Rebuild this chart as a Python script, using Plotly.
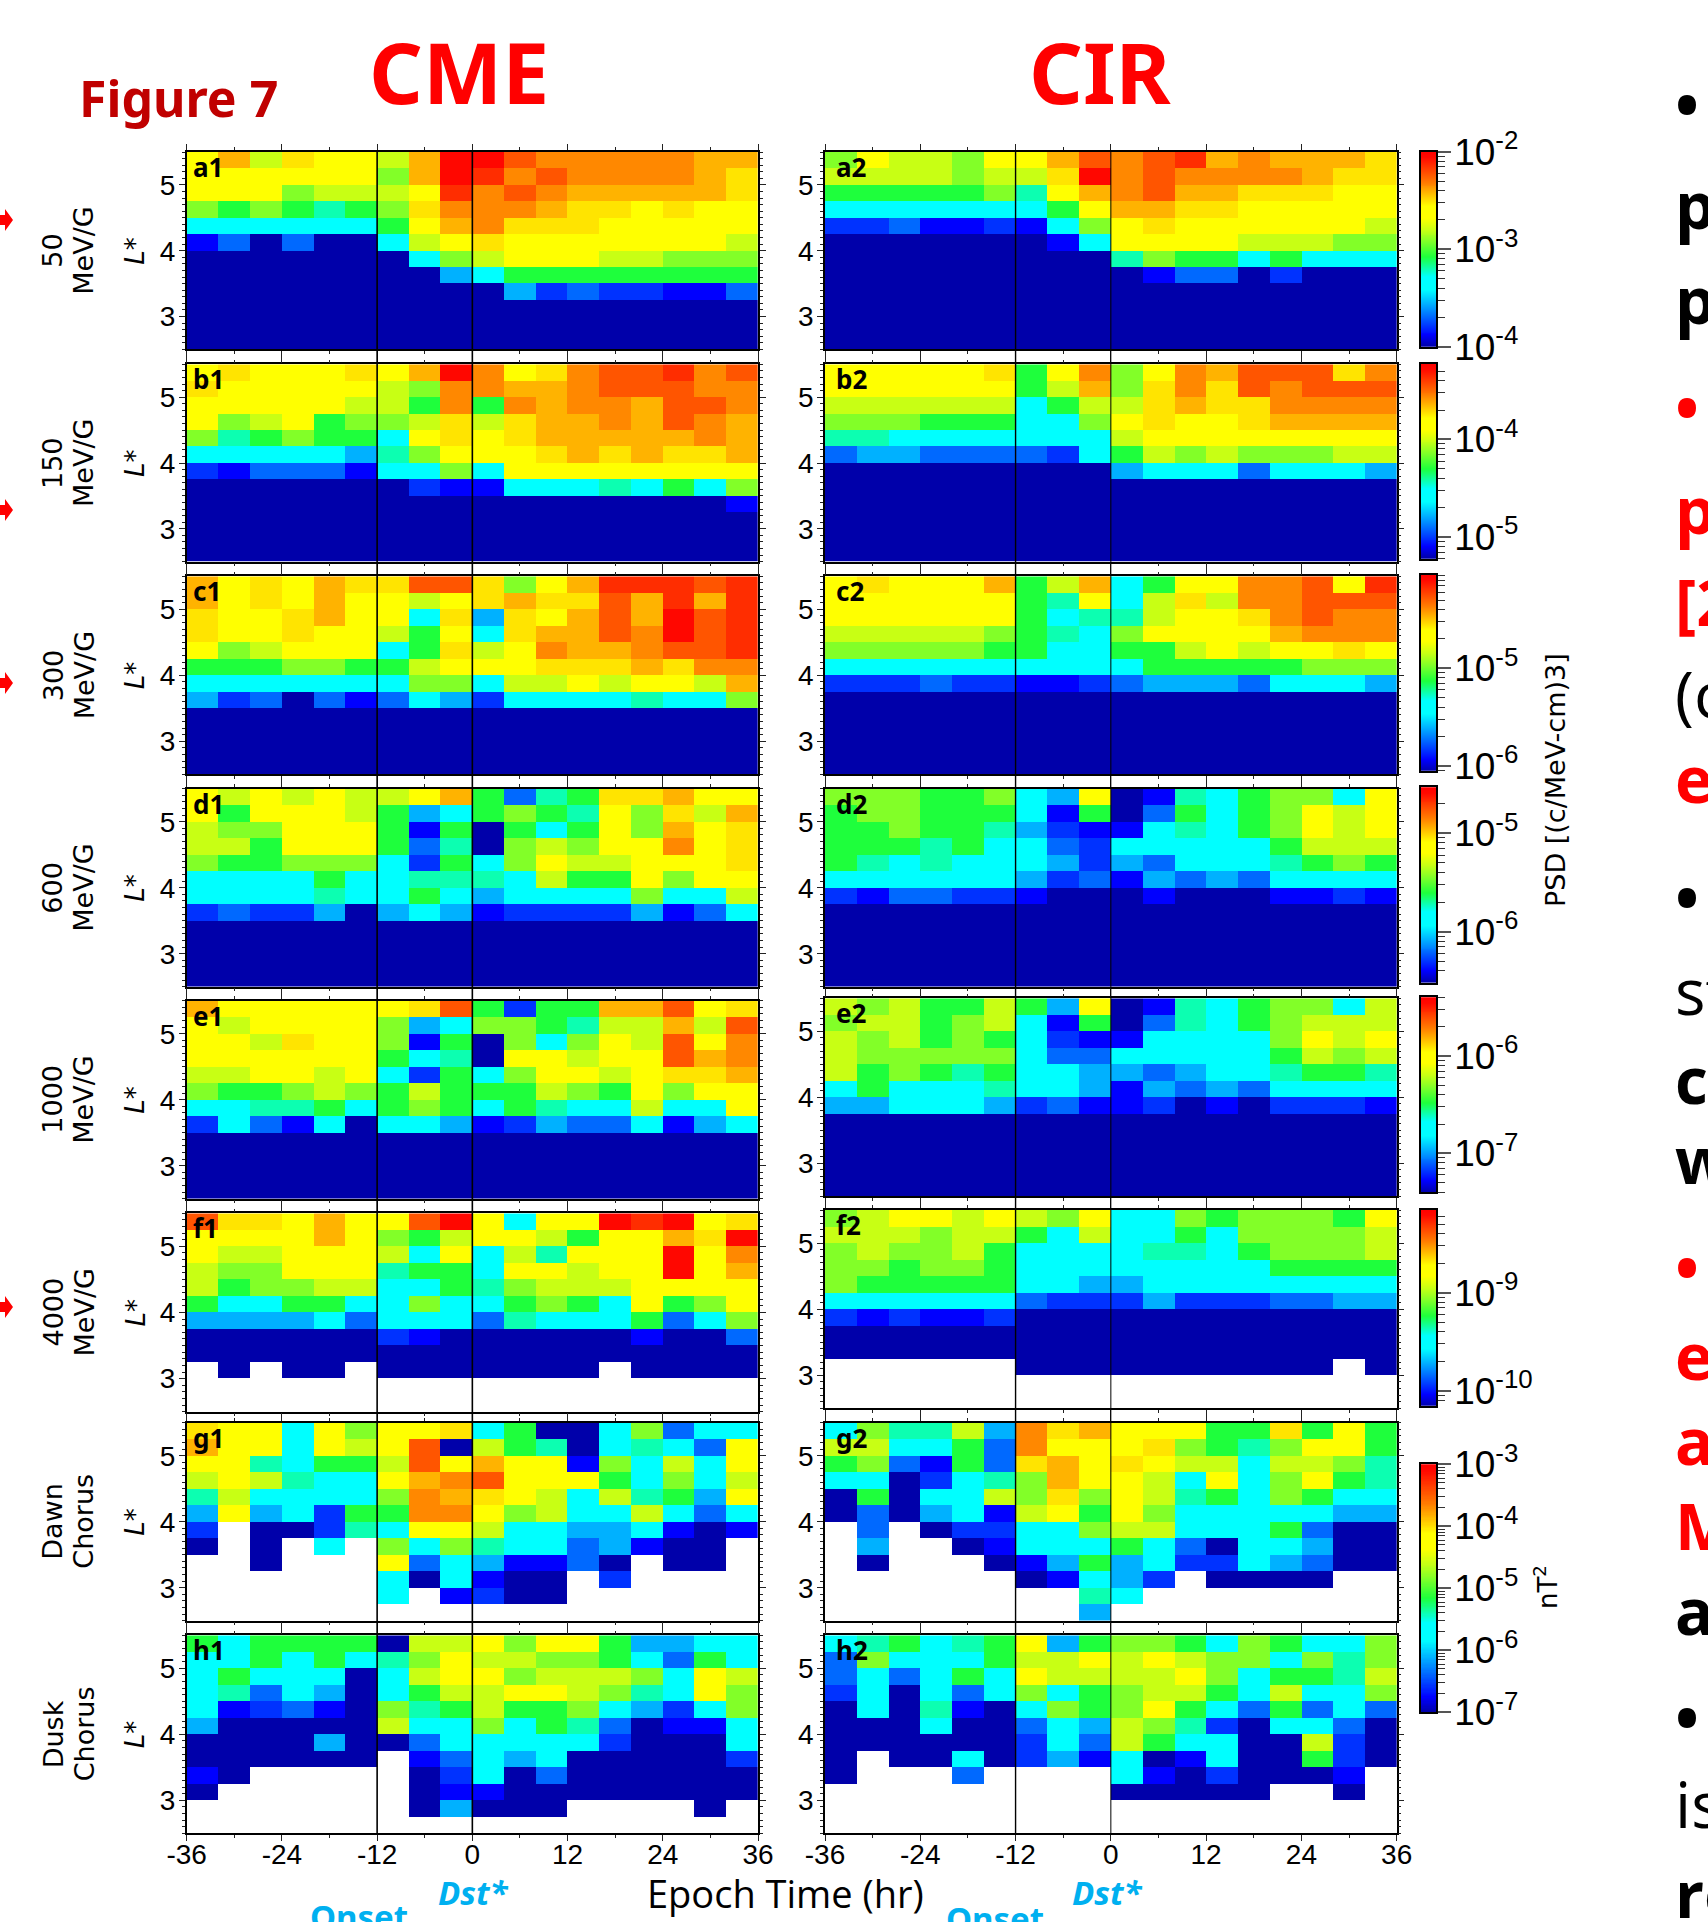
import numpy as np
import plotly.graph_objects as go

W, H = 1708, 1922
epoch_centers = list(range(-34, 35, 4))
lstar_centers_top_down = [5.375 - 0.25 * i for i in range(12)]
epoch_ticks = [-36, -24, -12, 0, 12, 24, 36]
epoch_tick_labels = ["-36", "-24", "-12", "0", "12", "24", "36"]

Z = "0" * 18
N = "." * 18
# each row: L* bin from top (5.25-5.5) to bottom (2.5-2.75); one character per 4-hr bin, colour level
a1 = ["ac9baa 9cg gedddddcc", "aaaaaa 8cg fdeddddcb", "aaa899 9af dedcccccb", "878767 8bd ddcbbabaa",
      "555555 7ac dbbbaaaaa", "130300 59a baaaaaaa9", "000000 058 9aaa99888", "000000 004 577777777",
      "000000 000 042322113", Z, Z, Z]
a2 = ["8a998a ace defcdcccb", "999989 9bg deddddcbb", "777778 6ac deccbbbaa", "555555 57a ccbbaaaaa",
      "223112 158 abaaaaaa9", "000000 015 aaaa99988", "000000 000 687757555", "000000 000 013302000",
      Z, Z, Z, Z]
b1 = ["abaaab acg dabdeefde", "baaaaa 98d dccdeeedd", "aaaaa9 97d 7dcddceed", "a89a78 89b 9bccdcedc",
      "867877 5ab abcccccdc", "555554 68a aabcbcbbc", "213331 558 5aaaaaaaa", "000000 021 155565758",
      "000000 000 000000001", Z, Z, Z]
b2 = ["aaaaab 7ad 8adceeebd", "aaaaaa 79c 8bdbedeee", "999999 579 9bcbbdddd", "888777 558 abaabcccc",
      "665555 555 9aaaaaaaa", "344333 325 798988899", "000000 000 455535554", Z, Z, Z, Z, Z]
c1 = ["cabacb bee b8acfffef", "cabaca a9a bcbbecfcf", "baabca a5b 4bacecgef", "baabaa 97a 5bccedgef",
      "a89aaa 57b 9adccdeef", "777887 79a aabbbcbdd", "555555 588 599a9aa9c", "423031 354 255556558",
      Z, Z, Z, Z]
c2 = ["abaaac 79c 57aaddeaf", "aaaaaa 76a 59b9ddeee", "aaaaaa 756 69aabdedd", "999998 765 8aaaacddd",
      "888887 755 779a9aaba", "555555 555 577777888", "222322 112 344435554", Z, Z, Z, Z, Z]
d1 = ["a9a9a9 9ac 7367bbcaa", "a7aaa9 745 7876a8b9c", "988aaa 717 0757a8cab", "997aaa 736 0898aadab",
      "877888 527 58a99aaab", "555575 566 65977a8aa", "555565 575 455558559", "232240 454 122224135",
      Z, Z, Z, Z]
d2 = ["888778 54a 01657885a", "788777 517 037578a9a", "778776 421 156578a9a", "777675 532 555557999",
      "765655 542 435556787", "555555 423 143435555", "213322 100 010001121", Z, Z, Z, Z, Z]
e1 = ["caaaaa abe 7277cceab", "a9aaaa 845 887699c9e", "aa9baa 817 0858a9ead", "aaaaaa 756 0aa9aaecd",
      "99aa9a 527 58aa9abbc", "877898 797 77987a8aa", "556675 787 57655955a", "253150 554 124335145",
      Z, Z, Z, Z]
e2 = ["989779 74a 016578859", "899789 517 036578999", "989787 521 155558a9a", "988888 533 555557989",
      "978767 554 434556776", "575556 554 143435555", "445554 231 120102221", Z, Z, Z, Z, Z]
f1 = ["ebbaca aeg a5aagfgab", "aaaaca 879 aa97aacbg", "a99aaa 95a 596aaagad", "988aaa 677 5aa9aagac",
      "978899 557 68999aaaa", "755775 585 57875a78a", "444453 555 365557358", "000000 210 000001003",
      Z, ".0.00. 000 0000.0000", N, N]
f2 = ["89aa9a 98a 55878887a", "999899 759 557588889", "898897 555 566578889", "887887 555 555557777",
      "877777 554 455555555", "555555 322 242223344", "212112 000 000000000", Z, Z,
      "...... 000 0000000.0", N, N]
g1 = ["baa5a8 aab 570058355", "caa5a9 ae0 97605653a", "aa6577 9ea caa18595a", "9a9655 acd eaaa75859",
      "695555 8dc ba959674a", "4a4527 7dd a89559535", "2.0026 5aa 955445101", "0.0.5. 858 65534100.",
      "..0... a35 41130.00.", "...... 505 100.2....", "...... 5.1 200......", N]
g2 = ["586694 dbc aaa77b7a7", "995573 daa ab8768aa7", "783173 bca ba9959986", "550256 8ca a95a58a76",
      "070559 8b8 a96758755", "030451 9a7 a85555544", ".3.022 558 995557300", ".4..01 555 753055400",
      ".0...0 147 452254300", "...... 015 42.0000..", "...... ..6 5........", "...... ..4 ........."]
h1 = ["757777 099 a8aa74455", "557575 68a 998875375", "575550 59a a89998 5a9", "563540 579 9aa9865a8",
      "512310 867 977854258", "400000 955 857630115", "000040 035 555520005", "000000 .13 545000002",
      "10.... .02 503000000", "0..... .01 100000000", "...... .04 000....0.", N]
h2 = ["567567 a47 887587558", "385557 99a 9a9885868", "353575 a99 99a857769", "250535 857 899759558",
      "050610 587 8a7537353", "000500 354 986205530", "000000 253 975500920", "0.0050 241 501500720",
      "0...3. ... 51020001.", "...... ... 00000..0.", N, N]

panels = [("a", a1, a2), ("b", b1, b2), ("c", c1, c2), ("d", d1, d2),
          ("e", e1, e2), ("f", f1, f2), ("g", g1, g2), ("h", h1, h2)]
row_labels = [("50", "MeV/G"), ("150", "MeV/G"), ("300", "MeV/G"), ("600", "MeV/G"),
              ("1000", "MeV/G"), ("4000", "MeV/G"), ("Dawn", "Chorus"), ("Dusk", "Chorus")]

# log10 colour range of each row (PSD or nT^2)
log_min = [-4.0, -5.222, -6.048, -6.518, -7.4, -10.153, -7.0, -7.0]
log_max = [-2.0, -3.223, -4.045, -4.533, -5.397, -8.156, -3.0, -3.0]
cbar_decades = [[-4, -3, -2], [-5, -4], [-6, -5], [-6, -5], [-7, -6], [-10, -9], [-7, -6, -5, -4, -3]]

level_chars = "0123456789abcdefg"
level_frac = [0, .06, .105, .155, .22, .32, .40, .46, .54, .60, .69, .745, .79, .83, .885, .93, .98]

jet = [[0, "rgb(0,0,170)"], [.06, "rgb(0,0,255)"], [.29, "rgb(0,255,255)"], [.36, "rgb(0,255,255)"],
       [.46, "rgb(30,255,60)"], [.54, "rgb(130,255,40)"], [.60, "rgb(200,255,20)"], [.66, "rgb(255,255,0)"],
       [.72, "rgb(255,255,0)"], [.84, "rgb(255,125,0)"], [.97, "rgb(255,10,0)"], [1, "rgb(255,0,0)"]]

# panel geometry in page pixels
col_x = [(186.7, 758.0), (825.0, 1396.7)]
row_y1 = [(152, 349.4), (364.3, 561.7), (576.3, 774.3), (788.7, 986.7), (1000.7, 1198.7),
          (1213.3, 1411.7), (1422.7, 1620.7), (1635.3, 1833.3)]
row_y2 = [(152, 349.4), (364.3, 561.7), (576.3, 774.3), (788.7, 986.7), (998.3, 1196),
          (1210, 1408.3), (1422.7, 1620.7), (1635.3, 1833.3)]
cbar_y = [(151.7, 346.7), (363.6, 558.7), (575, 770.7), (787.3, 982.7), (997.3, 1192.3), (1210, 1405.7), (1464.3, 1712.3)]
BAR_X0, BAR_X1 = 1421, 1436

TICK_FONT = "Liberation Sans"
WIDE_FONT = "DejaVu Sans"
BOLD_FONT = "Noto Sans"


def fx(x):
    return x / W


def fy(y):
    return 1 - y / H


def decode(rows):
    out = []
    for r in rows:
        r = r.replace(" ", "")
        assert len(r) == 18, r
        out.append([np.nan if c == "." else level_frac[level_chars.index(c)] for c in r])
    return np.array(out[::-1])


fig = go.Figure()
layout = {}
annotations = []
shapes = []


def note(text, x, y, size, color="black", font=BOLD_FONT, bold=False, italic=False, angle=0, xanchor="center"):
    if bold:
        text = f"<b>{text}</b>"
    if italic:
        text = f"<i>{text}</i>"
    annotations.append(dict(text=text, x=fx(x), y=fy(y), xref="paper", yref="paper", showarrow=False,
                            xanchor=xanchor, yanchor="middle", textangle=angle,
                            font=dict(size=size, color=color, family=font), borderpad=0, borderwidth=0))


n = 0
for i, (letter, left, right) in enumerate(panels):
    for j, rows in enumerate((left, right)):
        n += 1
        xname, yname = f"x{n}", f"y{n}"
        (x0, x1) = col_x[j]
        (y0, y1) = (row_y1 if j == 0 else row_y2)[i]
        lo, hi = log_min[i], log_max[i]
        z = lo + decode(rows) * (hi - lo)
        fig.add_trace(go.Heatmap(x=epoch_centers, y=lstar_centers_top_down[::-1], z=z, xaxis=xname, yaxis=yname,
                                 zmin=lo, zmax=hi, colorscale=jet, hoverongaps=False, showscale=False))

        suffix = "" if n == 1 else str(n)
        layout["xaxis" + suffix] = dict(
            domain=[fx(x0), fx(x1)], anchor=yname, range=[-36, 36], showgrid=False, zeroline=False,
            showline=True, linecolor="black", linewidth=1.5, mirror="allticks",
            tickmode="array", tickvals=epoch_ticks, ticktext=epoch_tick_labels,
            ticks="outside", ticklen=6, tickwidth=1.2, tickcolor="#222222",
            showticklabels=i == 7, tickfont=dict(size=28, family=TICK_FONT, color="black"),
            ticklabelstandoff=-11,
            minor=dict(ticks="outside", ticklen=3, tickwidth=1, tickcolor="#222222",
                       tickmode="array", tickvals=[-30, -18, -6, 6, 18, 30], showgrid=False))
        layout["yaxis" + suffix] = dict(
            domain=[fy(y1), fy(y0)], anchor=xname, range=[2.5, 5.5], showgrid=False, zeroline=False,
            showline=True, linecolor="black", linewidth=1.5, mirror="allticks",
            tickmode="array", tickvals=[3, 4, 5],
            ticks="outside", ticklen=6, tickwidth=1.2, tickcolor="#222222",
            tickfont=dict(size=28, family=TICK_FONT, color="black"), ticklabelstandoff=-2,
            minor=dict(ticks="outside", ticklen=3, tickwidth=1, tickcolor="#222222",
                       tick0=2.5, dtick=0.1, showgrid=False))

        # panel tag
        note(f"{letter}{j + 1}", (193 if j == 0 else 836), y0 + 15, 26, bold=True, xanchor="left")
    # row labels
    (y0, y1) = row_y1[i]
    note(row_labels[i][0], 53, (y0 + y1) / 2, 27, font=WIDE_FONT, angle=-90)
    note(row_labels[i][1], 84, (y0 + y1) / 2, 27, font=WIDE_FONT, angle=-90)
    note("L*", 135, (y0 + y1) / 2, 26, font=WIDE_FONT, italic=True, angle=-90)

# colour bars: one strip heatmap on its own log10 axis, with decade and 2..9 minor ticks
for c, (top, bot) in enumerate(cbar_y):
    n += 1
    lo, hi = log_min[c], log_max[c]
    decades = cbar_decades[c]
    levels = np.linspace(lo, hi, 200)
    minors = [k + np.log10(m) for k in range(int(np.floor(lo)), int(np.ceil(hi)) + 1) for m in range(2, 10)
              if lo <= k + np.log10(m) <= hi]
    xname, yname = f"x{n}", f"y{n}"
    fig.add_trace(go.Heatmap(x=[0], y=levels, z=levels[:, None], xaxis=xname, yaxis=yname, zmin=lo, zmax=hi,
                             colorscale=jet, showscale=False, hoverinfo="skip"))
    layout[f"xaxis{n}"] = dict(domain=[fx(BAR_X0), fx(BAR_X1)], anchor=yname, range=[-0.5, 0.5], showgrid=False,
                               zeroline=False, showticklabels=False, ticks="", showline=True, linecolor="black",
                               linewidth=1.5, mirror=True)
    layout[f"yaxis{n}"] = dict(domain=[fy(bot), fy(top)], anchor=xname, range=[lo, hi], side="right", showgrid=False,
                               zeroline=False, showline=True, linecolor="black", linewidth=1.5, mirror=True,
                               tickmode="array", tickvals=decades, ticktext=[f"10<sup>{d}</sup>" for d in decades],
                               ticks="outside", ticklen=13, tickwidth=1.5, tickcolor="#555555", ticklabelstandoff=-4,
                               tickfont=dict(size=37, family=TICK_FONT, color="black"),
                               minor=dict(ticks="outside", ticklen=7, tickwidth=1.2, tickcolor="#333333",
                                          tickmode="array", tickvals=minors, showgrid=False))

# storm onset and Dst* minimum lines, running through all panels of a column
for xr, vals, widths in (("x1", (-12, 0), (1.6, 1.6)), ("x2", (-12, 0), (1.4, 1.0))):
    for v, w in zip(vals, widths):
        shapes.append(dict(type="line", xref=xr, yref="paper", x0=v, x1=v, y0=fy(152), y1=fy(1833.3),
                           line=dict(color="black", width=w), layer="above"))

# clipped red arrows at the left page edge
for yc in (220, 510, 683, 1307):
    p = f"M{fx(-2):.5f},{fy(yc - 5):.5f}L{fx(5):.5f},{fy(yc - 5):.5f}L{fx(5):.5f},{fy(yc - 11):.5f}" \
        f"L{fx(13):.5f},{fy(yc):.5f}L{fx(5):.5f},{fy(yc + 11):.5f}L{fx(5):.5f},{fy(yc + 5):.5f}L{fx(-2):.5f},{fy(yc + 5):.5f}Z"
    shapes.append(dict(type="path", path=p, xref="paper", yref="paper", fillcolor="red",
                       line=dict(color="red", width=0), layer="above"))

# titles
note("CME", 459, 72, 84, color="#ff0000", bold=True)
note("CIR", 1100, 72, 84, color="#ff0000", bold=True)
note("Figure 7", 178, 98, 50, color="#c00000", bold=True)
note("Epoch Time (hr)", 785, 1893, 38, font="Open Sans")
BLUE = "#00b0f0"
note("Dst*", 474, 1892, 33, color=BLUE, bold=True, italic=True)
note("Dst*", 1107, 1892, 33, color=BLUE, bold=True, italic=True)
note("Onset", 359, 1916, 33, color=BLUE, bold=True)
note("Onset", 995, 1918, 33, color=BLUE, bold=True)
note("PSD [(c/MeV-cm)3]", 1555, 780, 27, font=WIDE_FONT, angle=-90)
note("nT<sup>2</sup>", 1546, 1587, 26, font=WIDE_FONT, angle=-90)

# text cut off by the right page edge
side_text = [("•", 104, "black", True), ("p", 205, "black", True), ("p", 300, "black", True),
             ("•", 408, "red", True), ("p", 509, "red", True), ("[2", 601, "red", True),
             ("(c", 693, "black", False), ("e", 778, "red", True), ("•", 898, "black", True),
             ("st", 990, "black", False), ("ch", 1079, "black", True), ("w", 1159, "black", True),
             ("•", 1267, "red", True), ("e", 1355, "red", True), ("a", 1440, "red", True),
             ("M", 1525, "red", True), ("a", 1610, "black", True), ("•", 1717, "black", True),
             ("is", 1803, "black", False), ("re", 1893, "black", True)]
for txt, yc, colr, bold in side_text:
    note(txt, 1675, yc, 64, color=colr, font="Open Sans", bold=bold, xanchor="left")

fig.update_layout(width=W, height=H, autosize=False, margin=dict(l=0, r=0, t=0, b=0, pad=0, autoexpand=False),
                  paper_bgcolor="white", plot_bgcolor="rgba(0,0,0,0)", showlegend=False,
                  annotations=annotations, shapes=shapes, **layout)

fig.write_html("out.html", config={"displayModeBar": False},
               post_script="document.body.style.margin='0';document.body.style.overflow='hidden';")
